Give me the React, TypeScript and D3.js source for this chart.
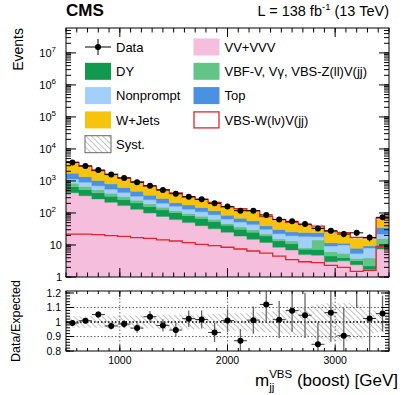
import React from 'react';
import * as d3 from 'd3';

// bin edges in GeV (last bin includes overflow)
const binEdges = [500, 620, 740, 860, 980, 1100, 1220, 1340, 1460, 1580, 1700, 1820, 1940, 2060, 2180, 2300, 2420, 2540, 2660, 2780, 2900, 3020, 3140, 3260, 3380, 3500];

// stacked backgrounds, bottom to top
const vvVVV = [430, 345, 275, 215, 170, 130, 100, 78, 62, 50, 40, 32, 25, 19, 15, 12, 8.5, 7, 5, 4.8, 3, 3.2, 2.4, 1.7, 7.5];
const dyBkg = [230, 190, 150, 120, 95, 75, 58, 46, 40, 32, 27, 22, 16, 12, 10, 7, 5, 4, 2.4, 2.4, 1.5, 0.9, 0.8, 0.5, 1.5];
const vbfV = [190, 140, 100, 80, 60, 45, 35, 27, 15, 14, 12, 10, 6, 6, 5, 3, 2, 2.5, 0.6, 7, 1.7, 1.4, 0.6, 1.7, 7];
const nonprompt = [300, 240, 180, 140, 110, 85, 65, 52, 45, 35, 30, 24, 18, 15, 14, 9, 7, 6, 10.3, 3.9, 3.1, 4.5, 1.6, 4.1, 6];
const top = [590, 450, 320, 250, 190, 140, 100, 78, 47, 45, 38, 30, 20, 16, 13, 9, 8, 6, 6.1, 6.1, 2.5, 1.3, 2.5, 1.4, 13];
const wJets = [2065, 1537, 1047, 800, 614, 458, 311, 237, 201, 128, 107, 88, 63, 60, 53, 32, 27, 22, 15.6, 12, 12.2, 11, 8, 5.6, 25];
// signal (stacked on top and drawn alone)
const signal = [22, 22, 21, 19.5, 18.5, 17, 16, 14.5, 13.3, 11.8, 10.5, 9.5, 8.5, 7.5, 6.5, 5.6, 4.5, 3.5, 3, 2.8, 2.3, 2, 1.5, 1.6, 9];
// observed events
const dataObs = [3800, 2950, 2200, 1580, 1240, 910, 710, 520, 400, 323, 269, 200, 158, 118, 118, 87, 63, 55, 45, 33, 28, 22, 24, 17, 73];
// relative systematic uncertainty
const systRel = [0.04, 0.04, 0.04, 0.04, 0.045, 0.045, 0.045, 0.05, 0.05, 0.05, 0.05, 0.055, 0.06, 0.06, 0.065, 0.07, 0.08, 0.09, 0.1, 0.12, 0.13, 0.13, 0.12, 0.08, 0.07];

const yMajorTicks = [1, 10, 100, 1000, 10000, 100000, 1000000, 10000000];
const xMajorTicks = [1000, 2000, 3000];
const ratioTicks = [0.8, 0.9, 1, 1.1, 1.2];

const keys = ['vv', 'dy', 'vbf', 'np', 'top', 'wj', 'sig'];
const colors: Record<string, string> = {
  vv: '#f6bedd', dy: '#109a4f', vbf: '#62c486', np: '#a2d0fb', top: '#4a91e3', wj: '#f6c30d', sig: 'none',
};

const FONT = '"Liberation Sans", Arial, Helvetica, sans-serif';

export default function App() {
  const L = 66, R = 389, T = 28, B = 277;
  const rT = 291, rB = 351;

  const x = d3.scaleLinear().domain([500, 3500]).range([L, R]);
  const y = d3.scaleLog().domain([1, 6e7]).range([B, T]).clamp(true);
  const yr = d3.scaleLinear().domain([0.8, 1.2]).range([rB, 293]).clamp(false);

  const rows = binEdges.slice(0, -1).map((_, i) => ({
    vv: vvVVV[i], dy: dyBkg[i], vbf: vbfV[i], np: nonprompt[i], top: top[i], wj: wJets[i], sig: signal[i],
  }));
  const series = d3.stack<any>().keys(keys)(rows);
  const total = rows.map(r => keys.reduce((s, k) => s + (r as any)[k], 0));

  const edgeIdx = binEdges.map((_, i) => Math.min(i, rows.length - 1));
  const area = (lo: (j: number) => number, hi: (j: number) => number, ys: any) =>
    d3.area<number>()
      .x((_, i) => x(binEdges[i]))
      .y0(j => ys(Math.max(lo(j), 0.5)))
      .y1(j => ys(Math.max(hi(j), 0.5)))
      .curve(d3.curveStepAfter)(edgeIdx) as string;
  const stepLine = (v: (j: number) => number, ys: any) =>
    d3.line<number>()
      .x((_, i) => x(binEdges[i]))
      .y(j => ys(v(j)))
      .curve(d3.curveStepAfter)(edgeIdx) as string;

  const centers = rows.map((_, i) => (binEdges[i] + binEdges[i + 1]) / 2);

  // ticks
  const minorY: number[] = [];
  yMajorTicks.forEach(d => { for (let k = 1; k <= 9; k++) if (d * k < 6e7) minorY.push(d * k); });
  const minorX = d3.range(500, 3501, 100);
  const minorR = d3.range(0.8, 1.2001, 0.02);

  const tickPath = (xs: number[], y0: number, y1: number, len: number, dir: 1 | -1) =>
    xs.map(v => `M${x(v)},${dir === 1 ? y1 : y0}v${dir === 1 ? -len : len}`).join('');

  const legendLeft = [
    { label: 'Data', kind: 'data' },
    { label: 'DY', kind: 'dy' },
    { label: 'Nonprompt', kind: 'np' },
    { label: 'W+Jets', kind: 'wj' },
    { label: 'Syst.', kind: 'syst' },
  ];
  const legendRight = [
    { label: 'VV+VVV', kind: 'vv' },
    { label: 'VBF-V, Vγ, VBS-Z(ll)V(jj)', kind: 'vbf' },
    { label: 'Top', kind: 'top' },
    { label: 'VBS-W(lν)V(jj)', kind: 'sig' },
  ];

  const legendBox = (item: { label: string; kind: string }, bx: number, cy: number) => {
    const tx = bx + 31;
    let sym: React.ReactNode;
    if (item.kind === 'data') {
      sym = (
        <g stroke="#000" strokeWidth={1}>
          <line x1={bx} x2={bx + 26} y1={cy} y2={cy} />
          <line x1={bx + 13} x2={bx + 13} y1={cy - 8} y2={cy + 8} />
          <circle cx={bx + 13} cy={cy} r={3} fill="#000" stroke="none" />
        </g>
      );
    } else if (item.kind === 'syst') {
      sym = <rect x={bx} y={cy - 8.5} width={26} height={17} fill="url(#hatch)" stroke="#666" strokeWidth={1} />;
    } else if (item.kind === 'sig') {
      sym = <rect x={bx + 0.5} y={cy - 8} width={25} height={16} fill="#fff" stroke="#e0262a" strokeWidth={1.3} />;
    } else {
      sym = <rect x={bx} y={cy - 8.5} width={26} height={17} fill={colors[item.kind]} />;
    }
    return (
      <g key={item.label}>
        {sym}
        <text x={tx} y={cy + 4.6} fontSize={13}>{item.label}</text>
      </g>
    );
  };

  const rowY = (k: number) => 47 + 24.3 * k;

  return (
    <svg width={407} height={395} style={{ position: 'absolute', left: 0, top: 0, fontFamily: FONT }}>
      <defs>
        <pattern id="hatch" patternUnits="userSpaceOnUse" width={4} height={4} patternTransform="rotate(-45)">
          <line x1={0} y1={0} x2={0} y2={4} stroke="#777" strokeWidth={0.9} />
        </pattern>
        <clipPath id="mainClip"><rect x={L} y={T} width={R - L} height={B - T} /></clipPath>
        <clipPath id="ratioClip"><rect x={L} y={rT} width={R - L} height={rB - rT} /></clipPath>
      </defs>
      <rect width={407} height={395} fill="#fff" />

      {/* main panel */}
      <g clipPath="url(#mainClip)">
        {series.filter(s => s.key !== 'sig').map(s => (
          <path key={s.key} d={area(j => s[j][0], j => s[j][1], y)} fill={colors[s.key]} stroke={colors[s.key]} strokeWidth={0.4} />
        ))}
        <path d={area(j => total[j] * (1 - systRel[j]), j => total[j] * (1 + systRel[j]), y)} fill="url(#hatch)" />
        <path d={stepLine(j => total[j], y)} fill="none" stroke="#e0262a" strokeWidth={1.3} />
        <path d={stepLine(j => signal[j], y)} fill="none" stroke="#e0262a" strokeWidth={1.3} />
        {dataObs.map((d, i) => {
          const e = Math.sqrt(d);
          return (
            <g key={i} stroke="#000" strokeWidth={1}>
              <line x1={x(binEdges[i])} x2={x(binEdges[i + 1])} y1={y(d)} y2={y(d)} />
              <line x1={x(centers[i])} x2={x(centers[i])} y1={y(d + e)} y2={y(d - e)} />
              <circle cx={x(centers[i])} cy={y(d)} r={3} fill="#000" stroke="none" />
            </g>
          );
        })}
      </g>

      {/* main frame and ticks */}
      <g stroke="#000" strokeWidth={1} fill="none">
        <rect x={L} y={T} width={R - L} height={B - T} />
        <path d={tickPath(minorX, T, B, 4.5, 1)} />
        <path d={tickPath(minorX, T, B, 4.5, -1)} />
        <path d={tickPath(xMajorTicks, T, B, 9, 1)} />
        <path d={tickPath(xMajorTicks, T, B, 9, -1)} />
        <path d={minorY.map(v => `M${L},${y(v)}h5M${R},${y(v)}h-5`).join('')} />
        <path d={yMajorTicks.map(v => `M${L},${y(v)}h10M${R},${y(v)}h-10`).join('')} />
      </g>
      <g fontSize={11} textAnchor="end" fill="#000">
        {yMajorTicks.map((v, i) => (
          <text key={v} x={i < 2 ? L - 4 : L - 10} y={y(v) + 4}>
            {i < 2 ? String(v) : (<>10<tspan fontSize={8} dy={-5}>{i}</tspan></>)}
          </text>
        ))}
      </g>

      {/* legend */}
      {legendLeft.map((it, k) => legendBox(it, 85, rowY(k)))}
      {legendRight.map((it, k) => legendBox(it, 193.5, rowY(k)))}

      {/* ratio panel */}
      <g clipPath="url(#ratioClip)">
        <path d={area(j => 1 - systRel[j], j => 1 + systRel[j], yr)} fill="url(#hatch)" />
        <g fill="none" strokeDasharray="1.5,2">
          {[0.9, 1.1].map(v => <line key={v} x1={L} x2={R} y1={yr(v)} y2={yr(v)} stroke="#555" strokeWidth={0.9} />)}
          <line x1={L} x2={R} y1={yr(1)} y2={yr(1)} stroke="#000" strokeWidth={1.4} />
          {xMajorTicks.map(v => <line key={v} x1={x(v)} x2={x(v)} y1={rT} y2={rB} stroke="#555" strokeWidth={0.9} />)}
        </g>
        {dataObs.map((d, i) => {
          const r = d / total[i];
          const e = Math.sqrt(d) / total[i];
          return (
            <g key={i}>
              <line x1={x(centers[i])} x2={x(centers[i])} y1={yr(r + e)} y2={yr(r - e)} stroke="#666" strokeWidth={1.3} />
              <line x1={x(binEdges[i])} x2={x(binEdges[i + 1])} y1={yr(r)} y2={yr(r)} stroke="#333" strokeWidth={1} />
              <circle cx={x(centers[i])} cy={yr(r)} r={3} fill="#000" />
            </g>
          );
        })}
      </g>
      <g stroke="#000" strokeWidth={1} fill="none">
        <rect x={L} y={rT} width={R - L} height={rB - rT} />
        <path d={tickPath(minorX, rT, rB, 3, 1)} />
        <path d={tickPath(minorX, rT, rB, 3, -1)} />
        <path d={tickPath(xMajorTicks, rT, rB, 6, 1)} />
        <path d={tickPath(xMajorTicks, rT, rB, 6, -1)} />
        <path d={minorR.map(v => `M${L},${yr(v)}h4M${R},${yr(v)}h-4`).join('')} />
        <path d={ratioTicks.map(v => `M${L},${yr(v)}h8M${R},${yr(v)}h-8`).join('')} />
      </g>
      <g fontSize={10.5} fill="#000">
        {ratioTicks.map(v => (
          <text key={v} x={L - 5} y={yr(v) + 3.8} textAnchor="end">{String(v)}</text>
        ))}
        {xMajorTicks.map(v => (
          <text key={v} x={x(v)} y={rB + 13} textAnchor="middle">{v}</text>
        ))}
      </g>

      {/* titles */}
      <text x={66} y={16} fontSize={17} fontWeight="bold">CMS</text>
      <text x={389} y={16} fontSize={14.5} textAnchor="end">
        L = 138 fb<tspan fontSize={9.5} dy={-6}>-1</tspan><tspan dy={6}> (13 TeV)</tspan>
      </text>
      <text transform="translate(23,28) rotate(-90)" fontSize={14} textAnchor="end">Events</text>
      <text transform="translate(20,321) rotate(-90)" fontSize={12.5} textAnchor="middle">Data/Expected</text>
      <text x={398} y={386} fontSize={17} textAnchor="end">
        m<tspan fontSize={11.5} dy={4.5}>jj</tspan><tspan fontSize={11.5} dx={-5.2} dy={-12.5}>VBS</tspan><tspan dy={8}> (boost) [GeV]</tspan>
      </text>
    </svg>
  );
}
